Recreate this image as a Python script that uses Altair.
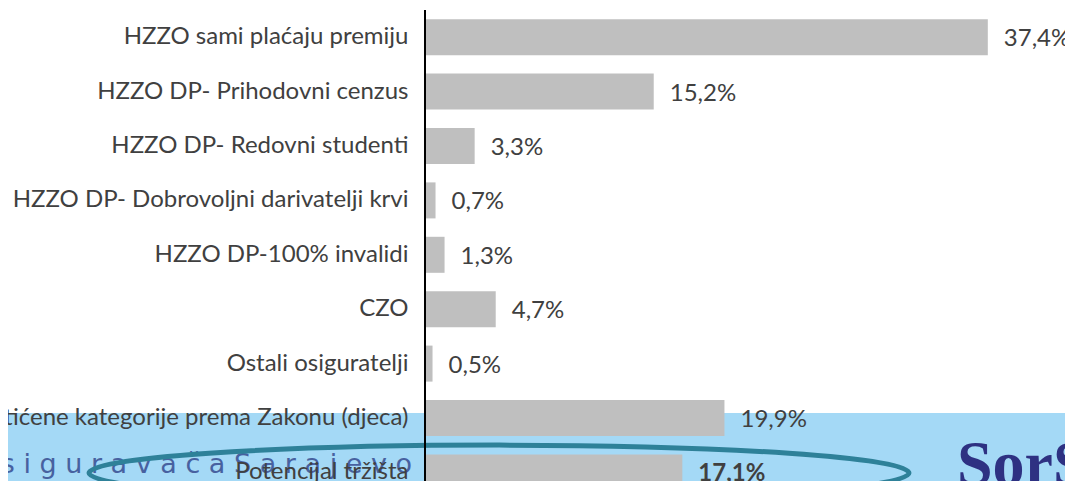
import altair as alt
import pandas as pd

categories = [
    "HZZO sami plaćaju premiju",
    "HZZO DP- Prihodovni cenzus",
    "HZZO DP- Redovni studenti",
    "HZZO DP- Dobrovoljni darivatelji krvi",
    "HZZO DP-100% invalidi\u00a0",
    "CZO",
    "Ostali osiguratelji",
    "Zaštićene kategorije prema Zakonu (djeca)",
    "Potencijal tržišta",
]
values = [37.4, 15.2, 3.3, 0.7, 1.3, 4.7, 0.5, 19.9, 17.1]
value_labels = ["37,4%", "15,2%", "3,3%", "0,7%", "1,3%", "4,7%", "0,5%", "19,9%", "17,1%"]
weights = ["normal"] * 8 + ["bold"]

df = pd.DataFrame({"cat": categories, "val": values, "lab": value_labels, "w": weights})
one = pd.DataFrame({"k": [0]})

FONT = "Lato"
TXT = "#404040"

yscale = alt.Scale(domain=categories, range=[0, 489.6], paddingInner=0.338, paddingOuter=0.169)
xscale = alt.Scale(domain=[0, 42.53], nice=False)

band = alt.Chart(one).mark_rect(color="#A4D9F6").encode(
    x=alt.value(-430), x2=alt.value(660), y=alt.value(403), y2=alt.value(495)
)

brand_left = alt.Chart(one).mark_text(
    text="o s i g u r a v a č a   S a r a j e v o", align="right", baseline="alphabetic",
    font="DejaVu Sans", fontSize=27, color="#3E5597", opacity=0.9,
).encode(x=alt.value(-13), y=alt.value(463))

brand_right = alt.Chart(one).mark_text(
    text="SorS", align="left", baseline="alphabetic",
    font="Liberation Serif", fontWeight="bold", fontSize=64, color="#2E3182",
).encode(x=alt.value(532), y=alt.value(475))

ellipse = alt.Chart(one).mark_point(
    shape="M-1,0A1,0.068,0,1,0,1,0A1,0.068,0,1,0,-1,0",
    filled=False, stroke="#2E8199", strokeWidth=5, size=672400, opacity=1,
).encode(x=alt.value(74), y=alt.value(463))

bars = alt.Chart(df).mark_bar(color="#BFBFBF").encode(
    x=alt.X("val:Q", scale=xscale, axis=None),
    y=alt.Y(
        "cat:N", scale=yscale,
        axis=alt.Axis(
            title=None, domain=False, ticks=False, labelFont=FONT, labelFontSize=24,
            labelColor=TXT, labelPadding=17, labelLimit=0, zindex=1,
        ),
    ),
)

def value_text(weight):
    return alt.Chart(df).transform_filter(alt.datum.w == weight).mark_text(
        align="left", baseline="middle", dx=16, dy=2, font=FONT, fontSize=24,
        color=TXT, fontWeight=weight,
    ).encode(
        x=alt.X("val:Q", scale=xscale),
        y=alt.Y("cat:N", scale=yscale),
        text="lab:N",
    )

axis_line = alt.Chart(one).mark_rule(color="black", strokeWidth=2).encode(
    x=alt.value(0), y=alt.value(0), y2=alt.value(482)
)

chart = (
    alt.layer(band, brand_left, brand_right, ellipse, bars,
              value_text("normal"), value_text("bold"), axis_line)
    .properties(
        width=640, height=471, autosize="none",
        padding={"left": 417, "top": 2, "right": 0, "bottom": 0},
    )
    .configure_view(stroke=None)
)

chart.save("out.html", embed_options={"renderer": "svg", "actions": False})
